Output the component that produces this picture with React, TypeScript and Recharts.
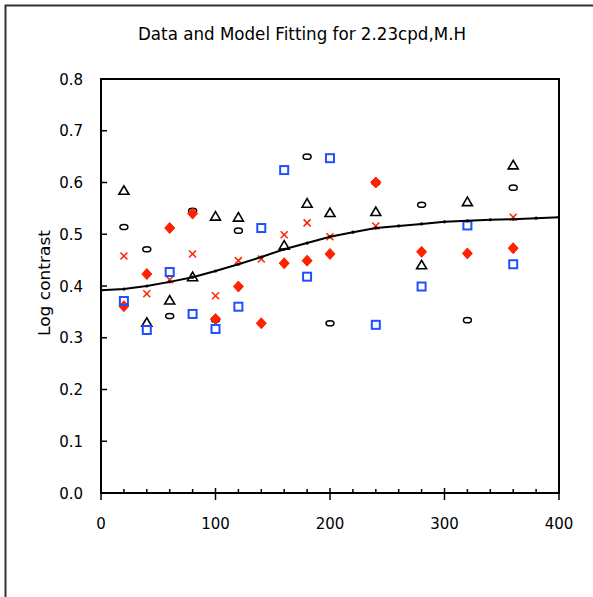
import React from 'react';
import { ScatterChart, Scatter, XAxis, YAxis, ReferenceArea } from 'recharts';

const FONT = '"DejaVu Sans", sans-serif';
const RED = '#ff2200';
const BLUE = '#1f4fff';

const titleText = 'Data and Model Fitting for 2.23cpd,M.H';
const yLabelText = 'Log contrast';

const xTicks = [0, 20, 40, 60, 80, 100, 120, 140, 160, 180, 200, 220, 240, 260, 280, 300, 320, 340, 360, 380, 400];
const yTicks = [0, 0.1, 0.2, 0.3, 0.4, 0.5, 0.6, 0.7, 0.8];

const sampleX = [20, 40, 60, 80, 100, 120, 140, 160, 180, 200, 240, 280, 320, 360];

const triangleX = [20, 40, 60, 80, 100, 120, 160, 180, 200, 240, 280, 320, 360];
const triangleY = [0.585, 0.33, 0.373, 0.418, 0.535, 0.533, 0.479, 0.56, 0.542, 0.544, 0.441, 0.563, 0.634];

const ellipseX = [20, 40, 60, 80, 100, 120, 180, 200, 240, 280, 320, 360];
const ellipseY = [0.514, 0.471, 0.342, 0.545, 0.335, 0.507, 0.65, 0.328, 0.6, 0.557, 0.334, 0.59];

const diamondY = [0.361, 0.423, 0.512, 0.54, 0.336, 0.399, 0.328, 0.444, 0.449, 0.462, 0.6, 0.466, 0.463, 0.473];

const crossX = [20, 40, 60, 80, 100, 120, 140, 160, 180, 200, 240, 360];
const crossY = [0.458, 0.385, 0.412, 0.462, 0.381, 0.449, 0.452, 0.499, 0.522, 0.495, 0.516, 0.533];

const squareY = [0.371, 0.315, 0.427, 0.346, 0.317, 0.36, 0.512, 0.624, 0.418, 0.647, 0.325, 0.399, 0.517, 0.442];

const modelX = [0, 20, 40, 60, 80, 100, 120, 140, 160, 180, 200, 220, 240, 260, 280, 300, 320, 340, 360, 380, 400];
const modelY = [0.392, 0.394, 0.4, 0.408, 0.417, 0.429, 0.442, 0.456, 0.471, 0.483, 0.495, 0.504, 0.512, 0.516, 0.52, 0.524, 0.526, 0.528, 0.529, 0.531, 0.533];

const zip = (xs: number[], ys: number[]) => xs.map((x, i) => ({ x, y: ys[i] }));

const triangleData = zip(triangleX, triangleY);
const ellipseData = zip(ellipseX, ellipseY);
const diamondData = zip(sampleX, diamondY);
const crossData = zip(crossX, crossY);
const squareData = zip(sampleX, squareY);
const modelData = zip(modelX, modelY);

const Triangle = (p: any) => (
  <polygon
    points={`${p.cx - 5},${p.cy + 4} ${p.cx + 5},${p.cy + 4} ${p.cx},${p.cy - 4.5}`}
    fill="none"
    stroke="#000"
    strokeWidth={1.6}
  />
);
const Ellipse = (p: any) => (
  <ellipse cx={p.cx} cy={p.cy} rx={4} ry={2.6} fill="none" stroke="#000" strokeWidth={1.5} />
);
const Diamond = (p: any) => (
  <polygon
    points={`${p.cx},${p.cy - 5.5} ${p.cx + 5},${p.cy} ${p.cx},${p.cy + 5.5} ${p.cx - 5},${p.cy}`}
    fill={RED}
    stroke={RED}
    strokeWidth={1}
  />
);
const Cross = (p: any) => (
  <g stroke={RED} strokeWidth={1.5}>
    <line x1={p.cx - 3.5} y1={p.cy - 3.5} x2={p.cx + 3.5} y2={p.cy + 3.5} />
    <line x1={p.cx - 3.5} y1={p.cy + 3.5} x2={p.cx + 3.5} y2={p.cy - 3.5} />
  </g>
);
const Square = (p: any) => (
  <rect x={p.cx - 4} y={p.cy - 4} width={8} height={8} fill="none" stroke={BLUE} strokeWidth={2} />
);
const Dot = (p: any) => <circle cx={p.cx} cy={p.cy} r={1.6} fill="#000" />;

const XTick = (p: any) => {
  const { x, y, payload } = p;
  const v = payload.value as number;
  const major = v % 100 === 0;
  return (
    <g>
      {major ? (
        <line x1={x} x2={x} y1={y - 5} y2={y + 7} stroke="#000" strokeWidth={1.5} />
      ) : (
        <line x1={x} x2={x} y1={y} y2={y - 4} stroke="#000" strokeWidth={1.5} />
      )}
      {major && (
        <text x={x} y={y + 36} textAnchor="middle" fontSize={15} fontFamily={FONT} fill="#000">
          {v}
        </text>
      )}
    </g>
  );
};

const YTick = (p: any) => {
  const { x, y, payload } = p;
  const v = payload.value as number;
  return (
    <g>
      <line x1={x} x2={x + 6} y1={y} y2={y} stroke="#000" strokeWidth={1.5} />
      <text x={x - 18} y={y + 5.5} textAnchor="end" fontSize={15} fontFamily={FONT} fill="#000">
        {v.toFixed(1)}
      </text>
    </g>
  );
};

export default function App() {
  return (
    <div style={{ position: 'absolute', left: 0, top: 0, width: 593, height: 597, background: '#fff', overflow: 'hidden' }}>
      <svg width={593} height={597} style={{ position: 'absolute', left: 0, top: 0 }}>
        <rect x={5.5} y={5.5} width={620} height={620} fill="none" stroke="#333" strokeWidth={2} />
        <text x={302} y={40} textAnchor="middle" fontSize={17} fontFamily={FONT} fill="#000" textLength={328} lengthAdjust="spacingAndGlyphs">
          {titleText}
        </text>
        <text
          x={50}
          y={283}
          textAnchor="middle"
          fontSize={15}
          fontFamily={FONT}
          fill="#000"
          transform="rotate(-90, 50, 283)"
          textLength={106}
          lengthAdjust="spacingAndGlyphs"
        >
          {yLabelText}
        </text>
      </svg>
      <div style={{ position: 'absolute', left: 0, top: 0 }}>
        <ScatterChart width={593} height={597} margin={{ top: 79, right: 34, bottom: 74, left: 61 }}>
          <XAxis
            type="number"
            dataKey="x"
            domain={[0, 400]}
            ticks={xTicks}
            interval={0}
            tick={<XTick />}
            tickLine={false}
            tickSize={0}
            tickMargin={0}
            height={30}
            axisLine={{ stroke: '#000', strokeWidth: 2 }}
            allowDataOverflow
          />
          <YAxis
            type="number"
            dataKey="y"
            domain={[0, 0.8]}
            ticks={yTicks}
            interval={0}
            tick={<YTick />}
            tickLine={false}
            tickSize={0}
            tickMargin={0}
            width={40}
            axisLine={{ stroke: '#000', strokeWidth: 2 }}
            allowDataOverflow
          />
          <ReferenceArea x1={0} x2={400} y1={0} y2={0.8} fill="none" fillOpacity={0} stroke="#000" strokeWidth={2} />
          <Scatter data={ellipseData} shape={<Ellipse />} isAnimationActive={false} />
          <Scatter data={triangleData} shape={<Triangle />} isAnimationActive={false} />
          <Scatter data={diamondData} shape={<Diamond />} isAnimationActive={false} />
          <Scatter data={crossData} shape={<Cross />} isAnimationActive={false} />
          <Scatter data={squareData} shape={<Square />} isAnimationActive={false} />
          <Scatter
            data={modelData}
            shape={<Dot />}
            line={{ stroke: '#000', strokeWidth: 2 }}
            lineType="joint"
            isAnimationActive={false}
          />
        </ScatterChart>
      </div>
    </div>
  );
}
